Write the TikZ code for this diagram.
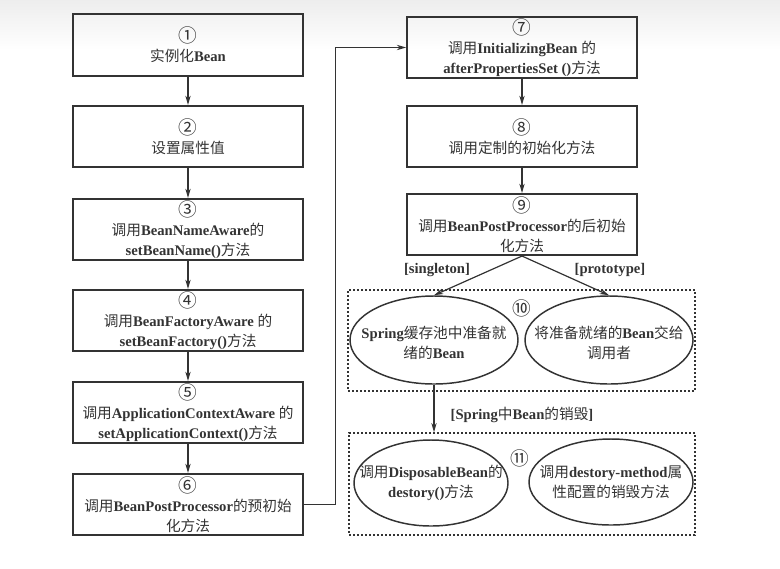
\documentclass[tikz,border=0pt]{standalone}
\usepackage{fontspec}
\setmainfont{Liberation Serif}
\newfontfamily\cjk{Noto Sans CJK SC}
\newcommand\zh[1]{{\cjk\mdseries #1}}
\newcommand\stepno[1]{{\cjk\mdseries\fontsize{14}{14.5}\selectfont #1}}
\usetikzlibrary{arrows.meta,shapes.geometric}
\definecolor{ink}{HTML}{333333}
\tikzset{
  stepbox/.style={draw=ink, line width=1.3pt, rectangle, minimum width=172.5pt,
    minimum height=46pt, inner sep=1pt, align=center, text=ink,
    font=\fontsize{11}{14.5}\selectfont\bfseries},
  oval/.style={draw=ink, line width=1.1pt, ellipse, inner sep=0pt},
  ovaltext/.style={align=center, text=ink, inner sep=0pt,
    font=\fontsize{11}{14.5}\selectfont\bfseries},
  group/.style={draw=ink, line width=1.1pt, dash pattern=on 1.5pt off 1.5pt,
    rectangle, inner sep=0pt},
  tag/.style={text=ink, inner sep=1pt, font=\fontsize{11}{14}\selectfont\bfseries},
  flow/.style={draw=ink, line width=0.9pt, -{Stealth[length=7pt,width=4pt]}},
}
\begin{document}
\begin{tikzpicture}[x=0.75pt, y=-0.75pt]
\useasboundingbox (0,0) rectangle (780,568);
\shade[top color=gray!14, bottom color=white] (0,0) rectangle (780,50);

% left column: creation and awareness callbacks
\node[stepbox] (b1) at (188,45)    {\stepno{①}\\\zh{实例化}Bean};
\node[stepbox] (b2) at (188,136.5) {\stepno{②}\\\zh{设置属性值}};
\node[stepbox] (b3) at (188,229.5) {\stepno{③}\\\zh{调用}BeanNameAware\zh{的}\\setBeanName()\zh{方法}};
\node[stepbox] (b4) at (188,320.5) {\stepno{④}\\\zh{调用}BeanFactoryAware \zh{的}\\setBeanFactory()\zh{方法}};
\node[stepbox] (b5) at (188,412.5) {\stepno{⑤}\\\zh{调用}ApplicationContextAware \zh{的}\\setApplicationContext()\zh{方法}};
\node[stepbox] (b6) at (188,504.5) {\stepno{⑥}\\\zh{调用}BeanPostProcessor\zh{的预初始}\\\zh{化方法}};

% right column: initialization
\node[stepbox] (b7) at (522,47.5)  {\stepno{⑦}\\\zh{调用}InitializingBean \zh{的}\\afterPropertiesSet ()\zh{方法}};
\node[stepbox] (b8) at (522,136.5) {\stepno{⑧}\\\zh{调用定制的初始化方法}};
\node[stepbox] (b9) at (522,224.5) {\stepno{⑨}\\\zh{调用}BeanPostProcessor\zh{的后初始}\\\zh{化方法}};

% group 10: ready beans
\node[group, minimum width=260.25pt, minimum height=75.75pt] (g10) at (521.5,340.5) {};
\node[oval, minimum width=126pt, minimum height=66pt] (e10a) at (434,340) {};
\node[oval, minimum width=126pt, minimum height=66pt] (e10b) at (609,340) {};
\node[ovaltext] (t10a) at (434,343) {Spring\zh{缓存池中准备就}\\\zh{绪的}Bean};
\node[ovaltext] (t10b) at (609,343) {\zh{将准备就绪的}Bean\zh{交给}\\\zh{调用者}};
\node[tag] (n10) at (522,308) {\stepno{⑩}};

% group 11: destruction
\node[group, minimum width=259.5pt, minimum height=76.5pt] (g11) at (522,484) {};
\node[oval, minimum width=115.5pt, minimum height=64.5pt] (e11a) at (431,483) {};
\node[oval, minimum width=123pt, minimum height=64.5pt] (e11b) at (611,482) {};
\node[ovaltext] (t11a) at (e11a.center) {\zh{调用}DisposableBean\zh{的}\\destory()\zh{方法}};
\node[ovaltext] (t11b) at (e11b.center) {\zh{调用}destory-method\zh{属}\\\zh{性配置的销毁方法}};
\node[tag] (n11) at (520,458) {\stepno{⑪}};

% connectors
\draw[flow] (b1) -- (b2);
\draw[flow] (b2) -- (b3);
\draw[flow] (b3) -- (b4);
\draw[flow] (b4) -- (b5);
\draw[flow] (b5) -- (b6);
\draw[flow] (b6.east) -- ++(32,0) |- (b7.west);
\draw[flow] (b7) -- (b8);
\draw[flow] (b8) -- (b9);
\draw[flow] (b9.south) -- (e10a.north);
\draw[flow] (b9.south) -- (e10b.north);
\draw[flow] (e10a.south) -- (e10a.south |- g11.north);

% branch labels
\node[tag] (lsing) at (437,270) {[singleton]};
\node[tag] (lproto) at (610,270) {[prototype]};
\node[tag] (ldest) at (522,415) {[Spring\zh{中}Bean\zh{的销毁}]};
\end{tikzpicture}
\end{document}
